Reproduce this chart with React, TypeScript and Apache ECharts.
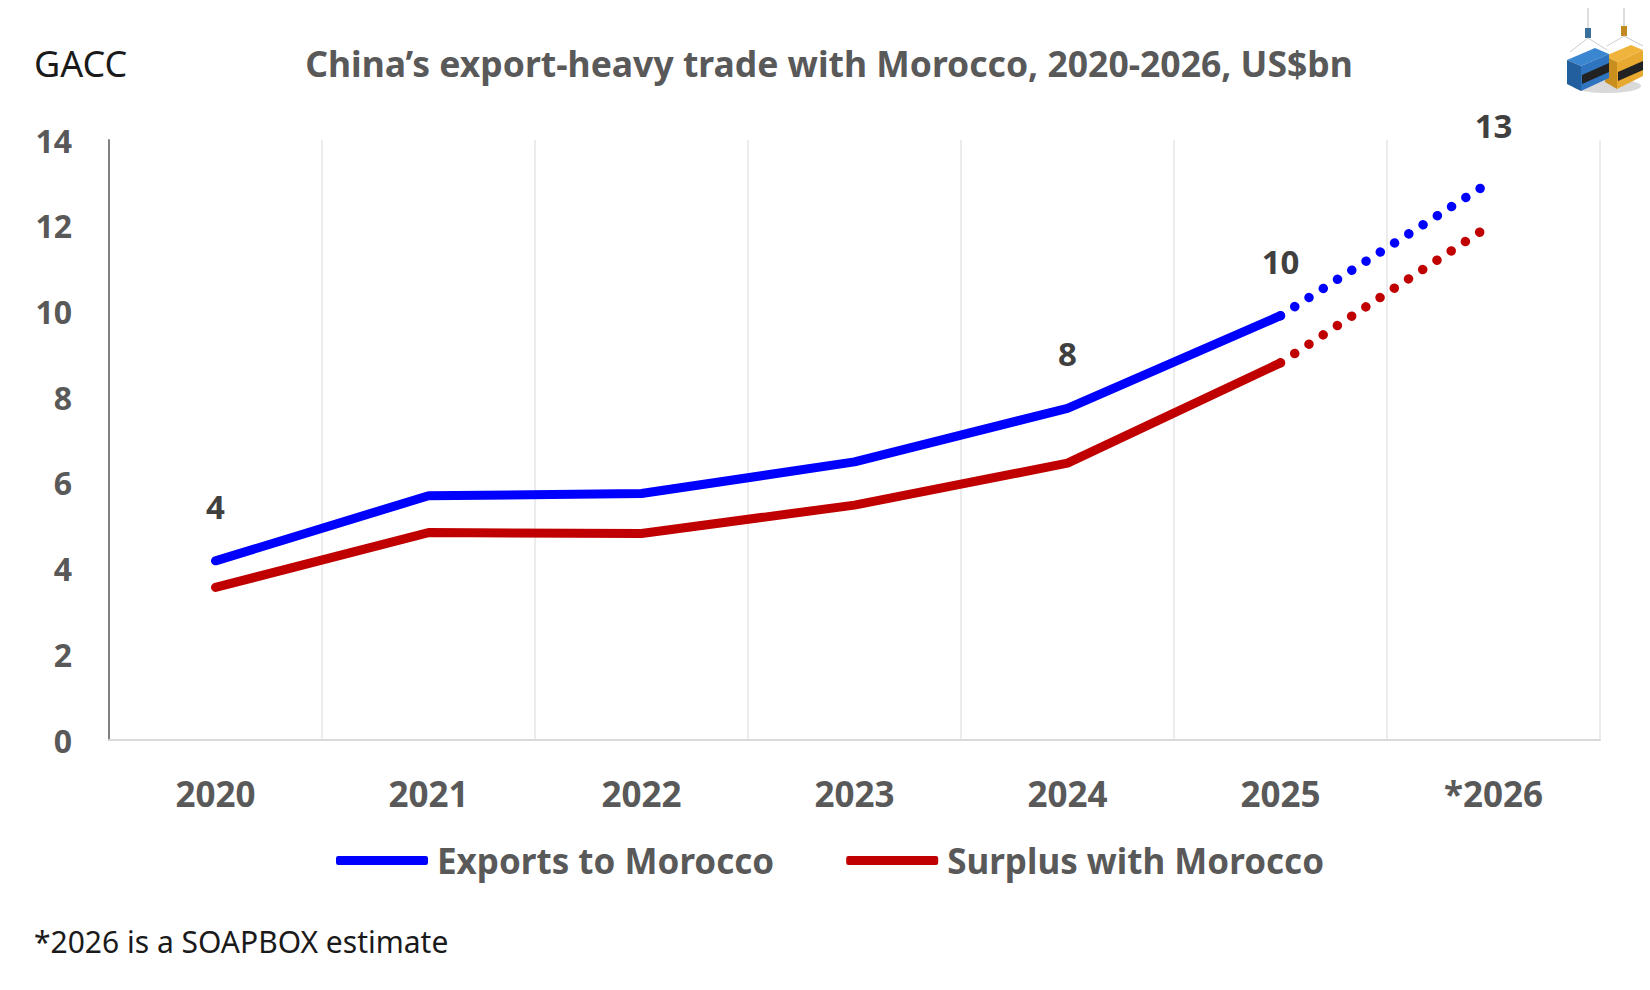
import React, { useEffect, useRef } from "react";
import * as echarts from "echarts";

const years = ["2020", "2021", "2022", "2023", "2024", "2025", "*2026"];
const exportsToMorocco = [4.18, 5.7, 5.75, 6.49, 7.74, 9.9, 13.07];
const surplusWithMorocco = [3.56, 4.84, 4.82, 5.48, 6.46, 8.8, 12.06];
const labelledYears = ["2020", "2024", "2025", "*2026"];
const estimateStart = 5; // index where the dotted estimate begins
const yTicks = { min: 0, max: 14, interval: 2 };

const BLUE = "#0000FF";
const RED = "#C00000";
const GRAY = "#595959";
const FONT = "'Noto Sans', 'Open Sans', sans-serif";

function solidPart(vals: number[]) {
  return vals.map((v, i) => (i <= estimateStart ? v : null));
}
function estPart(vals: number[]) {
  return vals.map((v, i) => (i >= estimateStart ? v : null));
}
function withLabels(vals: (number | null)[], skipIdx: number[] = []) {
  return vals.map((v, i) =>
    v !== null && labelledYears.includes(years[i]) && !skipIdx.includes(i)
      ? { value: v, label: { show: true } }
      : v
  );
}

const labelStyle = {
  show: false,
  position: "top" as const,
  distance: 38,
  fontSize: 33,
  fontWeight: "bold" as const,
  color: "#404040",
  fontFamily: FONT,
  formatter: (p: any) => String(Math.round(p.value)),
};

export default function App() {
  const ref = useRef<HTMLDivElement>(null);
  useEffect(() => {
    if (!ref.current) return;
    const chart = echarts.init(ref.current, undefined, { renderer: "svg" });
    chart.setOption({
      animation: false,
      backgroundColor: "#ffffff",
      title: {
        text: "China\u2019s export-heavy trade with Morocco, 2020-2026, US$bn",
        left: 824,
        textAlign: "center",
        top: 40,
        textStyle: { fontFamily: FONT, fontSize: 35.5, fontWeight: "bold", color: GRAY },
      },
      legend: {
        data: ["Exports to Morocco", "Surplus with Morocco"],
        left: 331,
        top: 838,
        icon: "roundRect",
        itemWidth: 92,
        itemHeight: 9,
        itemGap: 72,
        textStyle: { fontFamily: FONT, fontSize: 35, fontWeight: "bold", color: GRAY, padding: [0, 0, 0, 4] },
      },
      grid: { left: 109, right: 50, top: 140, bottom: 250, containLabel: false },
      xAxis: {
        type: "category",
        data: years,
        boundaryGap: true,
        axisLine: { show: true, lineStyle: { color: "#d9d9d9", width: 2 } },
        axisTick: { show: false },
        axisLabel: {
          margin: 36,
          fontFamily: FONT,
          fontSize: 35,
          fontWeight: "bold",
          color: GRAY,
          interval: 0,
        },
        splitLine: { show: true, interval: 0, lineStyle: { color: "#ececec", width: 2 } },
      },
      yAxis: {
        type: "value",
        min: yTicks.min,
        max: yTicks.max,
        interval: yTicks.interval,
        axisLine: { show: true, lineStyle: { color: "#808080", width: 2 } },
        axisTick: { show: false },
        splitLine: { show: false },
        axisLabel: {
          margin: 37,
          fontFamily: FONT,
          fontSize: 32,
          fontWeight: "bold",
          color: GRAY,
        },
      },
      graphic: [
        {
          type: "text",
          left: 34,
          top: 45,
          style: { text: "GACC", fontFamily: FONT, fontSize: 36, fill: "#1a1a1a" },
        },
        {
          type: "text",
          left: 34,
          top: 926,
          style: { text: "*2026 is a SOAPBOX estimate", fontFamily: FONT, fontSize: 30, fill: "#1a1a1a" },
        },
        {
          type: "group",
          x: 1565,
          y: 8,
          children: [
            { type: "ellipse", shape: { cx: 42, cy: 78, rx: 34, ry: 7 }, style: { fill: "#d9d9d9" } },
            { type: "line", shape: { x1: 23, y1: 0, x2: 23, y2: 22 }, style: { stroke: "#bbb", lineWidth: 1 } },
            { type: "line", shape: { x1: 59, y1: 0, x2: 59, y2: 20 }, style: { stroke: "#bbb", lineWidth: 1 } },
            { type: "rect", shape: { x: 20, y: 20, width: 6, height: 10 }, style: { fill: "#3a6f9a" } },
            { type: "rect", shape: { x: 56, y: 18, width: 6, height: 10 }, style: { fill: "#c08a20" } },
            { type: "polyline", shape: { points: [[5, 44], [23, 30], [42, 42]] }, style: { stroke: "#ccc", lineWidth: 1, fill: "none" } },
            { type: "polyline", shape: { points: [[42, 38], [59, 28], [78, 38]] }, style: { stroke: "#ccc", lineWidth: 1, fill: "none" } },
            // orange container
            { type: "polygon", shape: { points: [[40, 48], [66, 37], [78, 42], [52, 54]] }, style: { fill: "#f0b43c" } },
            { type: "polygon", shape: { points: [[52, 54], [78, 42], [78, 68], [52, 81]] }, style: { fill: "#e8a930" } },
            { type: "polygon", shape: { points: [[40, 48], [52, 54], [52, 81], [40, 74]] }, style: { fill: "#c98f1e" } },
            { type: "polygon", shape: { points: [[53, 64], [78, 53], [78, 62], [53, 73]] }, style: { fill: "#222" } },
            // blue container
            { type: "polygon", shape: { points: [[2, 52], [30, 40], [44, 46], [16, 58]] }, style: { fill: "#3b86d0" } },
            { type: "polygon", shape: { points: [[16, 58], [44, 46], [44, 70], [16, 83]] }, style: { fill: "#2f74be" } },
            { type: "polygon", shape: { points: [[2, 52], [16, 58], [16, 83], [2, 76]] }, style: { fill: "#225f9e" } },
            { type: "polygon", shape: { points: [[17, 67], [44, 55], [44, 64], [17, 76]] }, style: { fill: "#222" } },
          ],
        },
      ],
      series: [
        {
          name: "Exports to Morocco",
          type: "line",
          color: BLUE,
          data: withLabels(solidPart(exportsToMorocco)),
          symbol: "circle",
          symbolSize: 0,
          showSymbol: true,
          lineStyle: { color: BLUE, width: 9, cap: "round", join: "round" },
          label: labelStyle,
          z: 3,
        },
        {
          name: "Exports to Morocco (estimate)",
          type: "line",
          color: BLUE,
          data: withLabels(estPart(exportsToMorocco), [estimateStart]),
          symbol: "circle",
          symbolSize: 0,
          showSymbol: true,
          lineStyle: { color: BLUE, width: 9.5, cap: "round", type: [0.01, 16.9], dashOffset: 0 },
          label: labelStyle,
          z: 3,
        },
        {
          name: "Surplus with Morocco",
          type: "line",
          color: RED,
          data: solidPart(surplusWithMorocco),
          symbol: "none",
          lineStyle: { color: RED, width: 9, cap: "round", join: "round" },
          z: 2,
        },
        {
          name: "Surplus with Morocco (estimate)",
          type: "line",
          color: RED,
          data: estPart(surplusWithMorocco),
          symbol: "none",
          lineStyle: { color: RED, width: 9.5, cap: "round", type: [0.01, 17], dashOffset: 0 },
          z: 2,
        },
      ],
    });
    return () => chart.dispose();
  }, []);
  return (
    <div
      ref={ref}
      style={{ position: "fixed", left: 0, top: 0, width: 1650, height: 990 }}
    />
  );
}
